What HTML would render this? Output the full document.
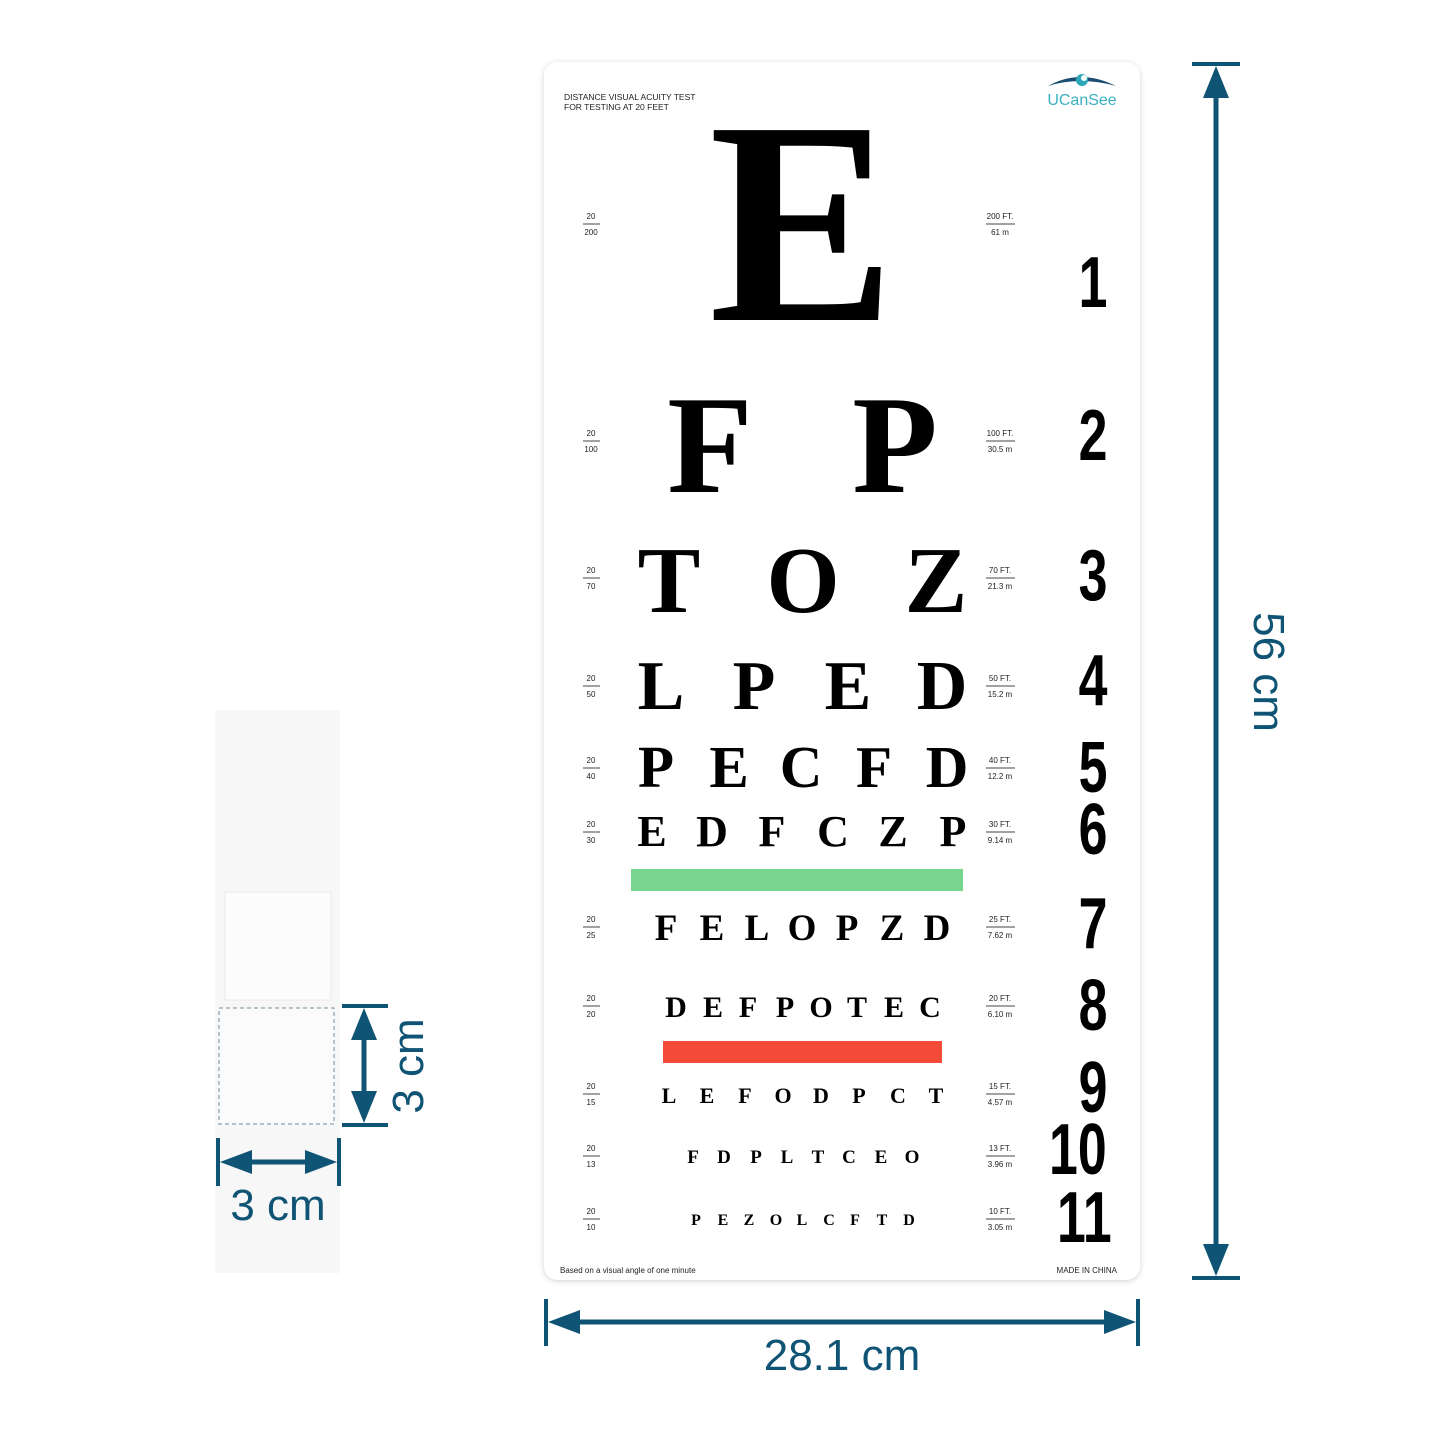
<!DOCTYPE html>
<html><head><meta charset="utf-8"><style>
html,body{margin:0;padding:0;background:#fff;}
svg{display:block;}
.L{font-family:"Liberation Serif",serif;font-weight:bold;fill:#000;text-anchor:middle;}
.s{font-family:"Liberation Sans",sans-serif;fill:#222;text-anchor:middle;font-size:8px;}
.n{font-family:"Liberation Sans",sans-serif;font-weight:bold;fill:#000;text-anchor:middle;font-size:72px;}
.d{font-family:"Liberation Sans",sans-serif;fill:#0f5474;text-anchor:middle;font-size:44px;}
</style></head><body>
<svg width="1445" height="1445" viewBox="0 0 1445 1445" xmlns="http://www.w3.org/2000/svg">
<defs><filter id="sh" x="-5%" y="-5%" width="110%" height="110%"><feDropShadow dx="0" dy="1" stdDeviation="3" flood-color="#000" flood-opacity="0.18"/></filter></defs>
<rect x="215" y="710" width="125" height="563" fill="#f7f7f7"/>
<rect x="225" y="892" width="106" height="108" fill="#fcfcfc" stroke="#eaeaea"/>
<rect x="219" y="1008" width="115" height="116" fill="#fbfbfb" stroke="#6e8ea0" stroke-dasharray="4,3"/>
<g stroke="#0f5474" fill="#0f5474">
<line x1="342" y1="1006" x2="388" y2="1006" stroke-width="4"/>
<line x1="342" y1="1125" x2="388" y2="1125" stroke-width="4"/>
<line x1="364" y1="1020" x2="364" y2="1112" stroke-width="5"/>
<polygon points="364,1008 351,1040 377,1040" stroke="none"/>
<polygon points="364,1123 351,1091 377,1091" stroke="none"/>
<line x1="218" y1="1138" x2="218" y2="1186" stroke-width="4"/>
<line x1="339" y1="1138" x2="339" y2="1186" stroke-width="4"/>
<line x1="230" y1="1162" x2="327" y2="1162" stroke-width="5"/>
<polygon points="220,1162 252,1150 252,1174" stroke="none"/>
<polygon points="337,1162 305,1150 305,1174" stroke="none"/>
</g>
<text class="d" x="278" y="1220">3 cm</text>
<text class="d" transform="translate(423,1066) rotate(-90)">3 cm</text>
<rect x="544" y="62" width="596" height="1218" rx="14" fill="#fff" filter="url(#sh)"/>
<text x="564" y="100" font-family="Liberation Sans,sans-serif" font-size="8.5" fill="#222">DISTANCE VISUAL ACUITY TEST</text>
<text x="564" y="110" font-family="Liberation Sans,sans-serif" font-size="8.5" fill="#222">FOR TESTING AT 20 FEET</text>
<path d="M1048,86 Q1080,68 1116,86 Q1080,76 1048,86Z" fill="#1c4f73"/>
<circle cx="1082" cy="80" r="6" fill="#2aa7b8"/><circle cx="1084" cy="78" r="3" fill="#fff"/>
<text x="1082" y="105" font-family="Liberation Sans,sans-serif" font-size="16" fill="#3ab0c0" text-anchor="middle">UCanSee</text>
<text x="560" y="1273" font-family="Liberation Sans,sans-serif" font-size="8" fill="#222">Based on a visual angle of one minute</text>
<text x="1117" y="1273" font-family="Liberation Sans,sans-serif" font-size="8" fill="#222" text-anchor="end">MADE IN CHINA</text>
<text class="L" x="802" y="320" font-size="290" textLength="186" lengthAdjust="spacingAndGlyphs">E</text>
<text class="L" x="710" y="492" font-size="140">F</text><text class="L" x="895" y="492" font-size="140">P</text>
<text class="L" x="669" y="612" font-size="94">T</text><text class="L" x="803" y="612" font-size="94">O</text><text class="L" x="936" y="612" font-size="94">Z</text>
<g font-size="70"><text class="L" x="661" y="709">L</text><text class="L" x="754" y="709">P</text><text class="L" x="848" y="709">E</text><text class="L" x="942" y="709">D</text></g>
<g font-size="59"><text class="L" x="656" y="787">P</text><text class="L" x="729" y="787">E</text><text class="L" x="801" y="787">C</text><text class="L" x="874" y="787">F</text><text class="L" x="947" y="787">D</text></g>
<g font-size="44"><text class="L" x="652" y="846">E</text><text class="L" x="712" y="846">D</text><text class="L" x="772" y="846">F</text><text class="L" x="833" y="846">C</text><text class="L" x="893" y="846">Z</text><text class="L" x="953" y="846">P</text></g>
<rect x="631" y="869" width="332" height="22" fill="#79d690"/>
<g font-size="37"><text class="L" x="666" y="940">F</text><text class="L" x="712" y="940">E</text><text class="L" x="757" y="940">L</text><text class="L" x="802" y="940">O</text><text class="L" x="847" y="940">P</text><text class="L" x="892" y="940">Z</text><text class="L" x="937" y="940">D</text></g>
<g font-size="30"><text class="L" x="676" y="1017">D</text><text class="L" x="713" y="1017">E</text><text class="L" x="748" y="1017">F</text><text class="L" x="785" y="1017">P</text><text class="L" x="821" y="1017">O</text><text class="L" x="857" y="1017">T</text><text class="L" x="894" y="1017">E</text><text class="L" x="930" y="1017">C</text></g>
<rect x="663" y="1041" width="279" height="22" fill="#f44a3a"/>
<g font-size="22"><text class="L" x="669" y="1103">L</text><text class="L" x="707" y="1103">E</text><text class="L" x="745" y="1103">F</text><text class="L" x="783" y="1103">O</text><text class="L" x="821" y="1103">D</text><text class="L" x="859" y="1103">P</text><text class="L" x="898" y="1103">C</text><text class="L" x="936" y="1103">T</text></g>
<g font-size="19"><text class="L" x="693" y="1163">F</text><text class="L" x="724" y="1163">D</text><text class="L" x="756" y="1163">P</text><text class="L" x="787" y="1163">L</text><text class="L" x="818" y="1163">T</text><text class="L" x="849" y="1163">C</text><text class="L" x="881" y="1163">E</text><text class="L" x="912" y="1163">O</text></g>
<g font-size="16"><text class="L" x="696" y="1225">P</text><text class="L" x="723" y="1225">E</text><text class="L" x="749" y="1225">Z</text><text class="L" x="776" y="1225">O</text><text class="L" x="802" y="1225">L</text><text class="L" x="829" y="1225">C</text><text class="L" x="855" y="1225">F</text><text class="L" x="882" y="1225">T</text><text class="L" x="909" y="1225">D</text></g>
<g>
<g transform="translate(0,224)"><text class="s" x="591" y="-5">20</text><line x1="583" y1="0" x2="600" y2="0" stroke="#444"/><text class="s" x="591" y="11">200</text><text class="s" x="1000" y="-5">200 FT.</text><line x1="986" y1="0" x2="1015" y2="0" stroke="#444"/><text class="s" x="1000" y="11">61 m</text></g>
<g transform="translate(0,441)"><text class="s" x="591" y="-5">20</text><line x1="583" y1="0" x2="600" y2="0" stroke="#444"/><text class="s" x="591" y="11">100</text><text class="s" x="1000" y="-5">100 FT.</text><line x1="986" y1="0" x2="1015" y2="0" stroke="#444"/><text class="s" x="1000" y="11">30.5 m</text></g>
<g transform="translate(0,578)"><text class="s" x="591" y="-5">20</text><line x1="583" y1="0" x2="600" y2="0" stroke="#444"/><text class="s" x="591" y="11">70</text><text class="s" x="1000" y="-5">70 FT.</text><line x1="986" y1="0" x2="1015" y2="0" stroke="#444"/><text class="s" x="1000" y="11">21.3 m</text></g>
<g transform="translate(0,686)"><text class="s" x="591" y="-5">20</text><line x1="583" y1="0" x2="600" y2="0" stroke="#444"/><text class="s" x="591" y="11">50</text><text class="s" x="1000" y="-5">50 FT.</text><line x1="986" y1="0" x2="1015" y2="0" stroke="#444"/><text class="s" x="1000" y="11">15.2 m</text></g>
<g transform="translate(0,768)"><text class="s" x="591" y="-5">20</text><line x1="583" y1="0" x2="600" y2="0" stroke="#444"/><text class="s" x="591" y="11">40</text><text class="s" x="1000" y="-5">40 FT.</text><line x1="986" y1="0" x2="1015" y2="0" stroke="#444"/><text class="s" x="1000" y="11">12.2 m</text></g>
<g transform="translate(0,832)"><text class="s" x="591" y="-5">20</text><line x1="583" y1="0" x2="600" y2="0" stroke="#444"/><text class="s" x="591" y="11">30</text><text class="s" x="1000" y="-5">30 FT.</text><line x1="986" y1="0" x2="1015" y2="0" stroke="#444"/><text class="s" x="1000" y="11">9.14 m</text></g>
<g transform="translate(0,927)"><text class="s" x="591" y="-5">20</text><line x1="583" y1="0" x2="600" y2="0" stroke="#444"/><text class="s" x="591" y="11">25</text><text class="s" x="1000" y="-5">25 FT.</text><line x1="986" y1="0" x2="1015" y2="0" stroke="#444"/><text class="s" x="1000" y="11">7.62 m</text></g>
<g transform="translate(0,1006)"><text class="s" x="591" y="-5">20</text><line x1="583" y1="0" x2="600" y2="0" stroke="#444"/><text class="s" x="591" y="11">20</text><text class="s" x="1000" y="-5">20 FT.</text><line x1="986" y1="0" x2="1015" y2="0" stroke="#444"/><text class="s" x="1000" y="11">6.10 m</text></g>
<g transform="translate(0,1094)"><text class="s" x="591" y="-5">20</text><line x1="583" y1="0" x2="600" y2="0" stroke="#444"/><text class="s" x="591" y="11">15</text><text class="s" x="1000" y="-5">15 FT.</text><line x1="986" y1="0" x2="1015" y2="0" stroke="#444"/><text class="s" x="1000" y="11">4.57 m</text></g>
<g transform="translate(0,1156)"><text class="s" x="591" y="-5">20</text><line x1="583" y1="0" x2="600" y2="0" stroke="#444"/><text class="s" x="591" y="11">13</text><text class="s" x="1000" y="-5">13 FT.</text><line x1="986" y1="0" x2="1015" y2="0" stroke="#444"/><text class="s" x="1000" y="11">3.96 m</text></g>
<g transform="translate(0,1219)"><text class="s" x="591" y="-5">20</text><line x1="583" y1="0" x2="600" y2="0" stroke="#444"/><text class="s" x="591" y="11">10</text><text class="s" x="1000" y="-5">10 FT.</text><line x1="986" y1="0" x2="1015" y2="0" stroke="#444"/><text class="s" x="1000" y="11">3.05 m</text></g>
</g>
<g transform="translate(1093,0) scale(0.72,1)">
<text class="n" x="0" y="307">1</text><text class="n" x="0" y="460">2</text><text class="n" x="0" y="600">3</text><text class="n" x="0" y="705">4</text><text class="n" x="0" y="792">5</text><text class="n" x="0" y="854">6</text><text class="n" x="0" y="948">7</text><text class="n" x="0" y="1030">8</text><text class="n" x="0" y="1112">9</text><text class="n" x="-21" y="1174">10</text><text class="n" x="-12" y="1242">11</text>
</g>
<g stroke="#0f5474" fill="#0f5474">
<line x1="1192" y1="64" x2="1240" y2="64" stroke-width="4"/>
<line x1="1192" y1="1278" x2="1240" y2="1278" stroke-width="4"/>
<line x1="1216" y1="80" x2="1216" y2="1262" stroke-width="5"/>
<polygon points="1216,66 1203,98 1229,98" stroke="none"/>
<polygon points="1216,1276 1203,1244 1229,1244" stroke="none"/>
<line x1="546" y1="1299" x2="546" y2="1346" stroke-width="4"/>
<line x1="1138" y1="1299" x2="1138" y2="1346" stroke-width="4"/>
<line x1="560" y1="1322" x2="1124" y2="1322" stroke-width="5"/>
<polygon points="548,1322 580,1310 580,1334" stroke="none"/>
<polygon points="1136,1322 1104,1310 1104,1334" stroke="none"/>
</g>
<text class="d" x="842" y="1370">28.1 cm</text>
<text class="d" transform="translate(1254,672) rotate(90)">56 cm</text>
</svg>
</body></html>
